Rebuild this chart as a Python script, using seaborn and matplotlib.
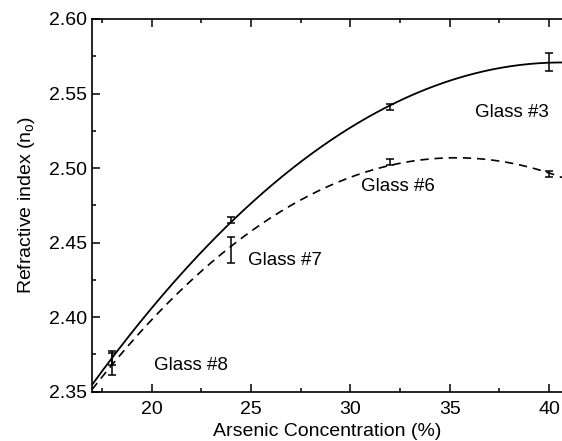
import numpy as np
import pandas as pd
import seaborn as sns
import matplotlib.pyplot as plt
from matplotlib.ticker import MultipleLocator

# data
conc = [18, 24, 32, 40]
n_solid = [2.372, 2.465, 2.541, 2.571]
err_solid = [0.004, 0.002, 0.002, 0.006]
n_dashed = [2.369, 2.445, 2.504, 2.496]
err_dashed = [0.008, 0.009, 0.002, 0.002]

labels = ["Glass #8", "Glass #7", "Glass #6", "Glass #3"]
label_x = [22.0, 26.7, 32.4, 38.15]
label_y = [2.3675, 2.4377, 2.4875, 2.537]

sns.set_style("ticks", {'axes.edgecolor': 'black', 'text.color': 'black',
                        'xtick.color': 'black', 'ytick.color': 'black',
                        'axes.labelcolor': 'black'})
plt.rcParams['font.family'] = ['Liberation Sans', 'DejaVu Sans']

fig = plt.figure(figsize=(5.62, 4.41), dpi=100)
ax = fig.add_axes([0.1637, 0.1118, 0.8363, 0.8452])

# quadratic fits to the measured points
xs = np.linspace(17, 40.65, 200)
fit_solid = np.polyval(np.polyfit(conc, n_solid, 2), xs)
fit_dashed = np.polyval(np.polyfit(conc, n_dashed, 2), xs)
curves = pd.DataFrame({'x': xs, 'solid': fit_solid, 'dashed': fit_dashed})

sns.lineplot(data=curves, x='x', y='solid', color='black', lw=1.3, ax=ax)
sns.lineplot(data=curves, x='x', y='dashed', color='black', lw=1.2,
             linestyle=(0, (5, 3.5)), ax=ax)

ax.errorbar(conc, n_solid, yerr=err_solid, fmt='none', ecolor='black',
            elinewidth=1.1, capsize=2.8, capthick=1.1)
ax.errorbar(conc, n_dashed, yerr=err_dashed, fmt='none', ecolor='black',
            elinewidth=1.1, capsize=2.8, capthick=1.1)

for t, x, y in zip(labels, label_x, label_y):
    ax.text(x, y, t, ha='center', va='center', fontsize=13.5, color='black')

ax.set_xlim(17, 40.65)
ax.set_ylim(2.35, 2.60)
ax.xaxis.set_major_locator(MultipleLocator(5))
ax.xaxis.set_minor_locator(MultipleLocator(2.5))
ax.yaxis.set_major_locator(MultipleLocator(0.05))
ax.yaxis.set_minor_locator(MultipleLocator(0.025))
ax.yaxis.set_major_formatter(plt.FormatStrFormatter('%.2f'))
ax.tick_params(which='both', direction='in', top=True, right=False,
               labelsize=14, width=1.1, color='black', labelcolor='black')
ax.tick_params(which='major', length=6)
ax.tick_params(which='minor', length=3)
ax.tick_params(axis='x', which='major', pad=6.5)
for s in ['left', 'bottom', 'top']:
    ax.spines[s].set_linewidth(1.2)
    ax.spines[s].set_color('black')
ax.spines['right'].set_visible(False)

ax.set_xlabel('Arsenic Concentration (%)', fontsize=14, labelpad=4)
ax.set_ylabel('Refractive index (n$_\\mathregular{o}$)', fontsize=14, labelpad=9)

fig.savefig('out.png', dpi=100)
